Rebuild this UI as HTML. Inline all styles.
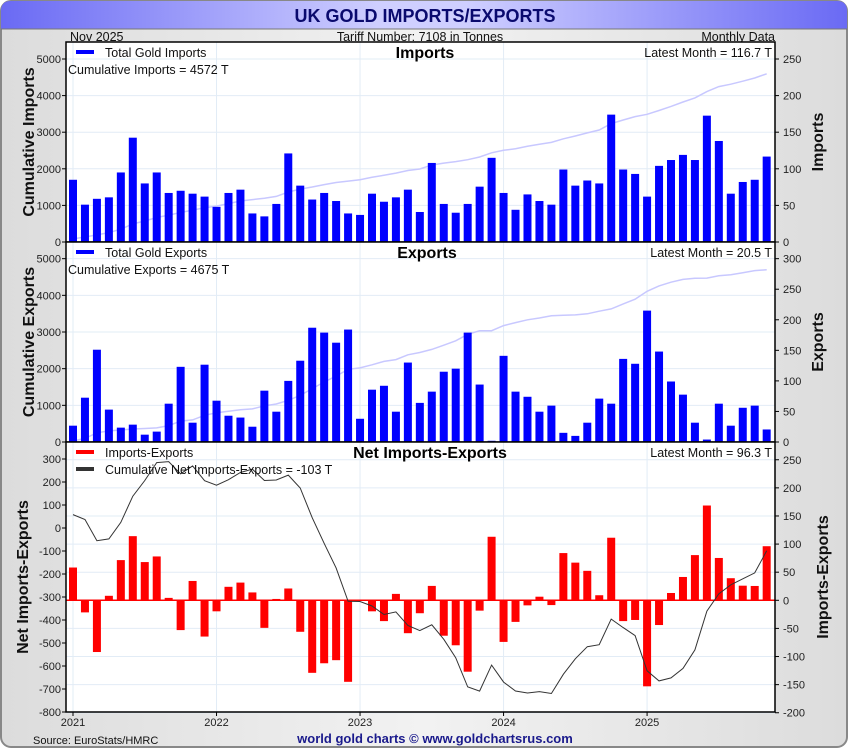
<!DOCTYPE html>
<html><head><meta charset="utf-8">
<style>
html,body{margin:0;padding:0;background:#fff;}
svg{display:block;font-family:"Liberation Sans",sans-serif;}
</style></head>
<body>
<svg id="chart" width="850" height="750" viewBox="0 0 850 750" xmlns="http://www.w3.org/2000/svg">
<defs>
<linearGradient id="tg" x1="0" x2="1" y1="0" y2="0">
<stop offset="0" stop-color="#6a6af4"/><stop offset="0.45" stop-color="#cfcfff"/><stop offset="0.55" stop-color="#cfcfff"/><stop offset="1" stop-color="#6a6af4"/>
</linearGradient>
<linearGradient id="bg" x1="0" x2="1" y1="0" y2="0">
<stop offset="0" stop-color="#dcdcdc"/><stop offset="0.5" stop-color="#f2f2f2"/><stop offset="1" stop-color="#dcdcdc"/>
</linearGradient>
</defs>
<rect x="1" y="1" width="846" height="746" rx="10" fill="url(#bg)" stroke="#888" stroke-width="2"/>
<path d="M1,29 L1,11 Q1,1 11,1 L837,1 Q847,1 847,11 L847,29 Z" fill="url(#tg)"/>
<line x1="1" y1="29" x2="847" y2="29" stroke="#777" stroke-width="1"/>
<text x="425" y="22" text-anchor="middle" font-size="18" font-weight="bold" fill="#0a0a6e">UK GOLD IMPORTS/EXPORTS</text>
<text x="70" y="41" font-size="12.5" fill="#111">Nov  2025</text>
<text x="420" y="41" text-anchor="middle" font-size="12.5" fill="#111">Tariff Number: 7108 in Tonnes</text>
<text x="775" y="41" text-anchor="end" font-size="12.5" fill="#111">Monthly Data</text>
<text x="33" y="744" font-size="11" fill="#111">Source: EuroStats/HMRC</text>
<text x="435" y="743" text-anchor="middle" font-size="13" font-weight="bold" fill="#1a1a8c">world gold charts © www.goldchartsrus.com</text>
<g id="plots"></g>
</svg>
<script>
const imports = [85,51,59,61,95,142.5,80,95,67,70,66,62,48,67,71.5,39,35,52,121,77,58,67,56,39,37,66,55,61,71.5,41,108,52,40,52,75.6,115,67,44,65,56,51,99,77,84,80,174,99,93,62,104,112,119,112,172.6,138,66,82,85,116.7];
const exportsArr = [26.7,72.5,151,53,23.5,28.4,12,17,62.7,123,31.6,126.5,67.6,43,40,25,84,49.6,100,133,187,179,162.5,184,38,85.6,92,49.6,130,64,82.4,115,120,179,94,2,141,82.4,74,49.6,59.5,15,10,31.6,71,62.7,136,128,215,148,99,77.5,31.6,4,62.7,26.7,56,59.5,20.5];
const yearLabels = ["2021","2022","2023","2024","2025"];
const impLeftTicks = [0,1000,2000,3000,4000,5000];
const impRightTicks = [0,50,100,150,200,250];
const expLeftTicks = [0,1000,2000,3000,4000,5000];
const expRightTicks = [0,50,100,150,200,250,300];
const netLeftTicks = [300,200,100,0,-100,-200,-300,-400,-500,-600,-700,-800];
const netRightTicks = [250,200,150,100,50,0,-50,-100,-150,-200];

const NS="http://www.w3.org/2000/svg";
const root=document.getElementById('plots');
function el(tag,attrs,parent){const e=document.createElementNS(NS,tag);for(const k in attrs)e.setAttribute(k,attrs[k]);(parent||root).appendChild(e);return e;}
const X0=66,X1=775;
const xm=i=>73+i*11.96;
const net=imports.map((v,i)=>v-exportsArr[i]);
const cum=a=>{let s=0;return a.map(v=>s+=v);};

function panel(cfg){
  const g=el('g',{});
  
  
  el('rect',{x:X0,y:cfg.top,width:X1-X0,height:cfg.bot-cfg.top,fill:'#fff'},g);
  cfg.gridTicks.forEach(t=>{const y=cfg.gy(t);el('line',{x1:X0,x2:X1,y1:y,y2:y,stroke:'#e2ecf6','stroke-width':1},g);});
  yearLabels.forEach((l,k)=>{const x=xm(k*12);el('line',{x1:x,x2:x,y1:cfg.top,y2:cfg.bot,stroke:'#e2ecf6','stroke-width':1},g);});
  const cp=cfg.cumVals.map((v,i)=>xm(i).toFixed(1)+','+cfg.ly(v).toFixed(1)).join(' ');
  const pl=el('polyline',{points:cp,fill:'none',stroke:cfg.cumColor,'stroke-width':cfg.cumW},g);
  
  
  const z=cfg.ry(0);
  cfg.vals.forEach((v,i)=>{const y=cfg.ry(v);const b=el('rect',{x:xm(i)-4,y:Math.min(y,z),width:8,height:Math.abs(z-y),fill:cfg.barColor},g);
    
    });
  if(cfg.zeroLine){el('line',{x1:X0,x2:X1,y1:z,y2:z,stroke:'#f00','stroke-width':1.5},g);}
  if(cfg.overLine){g.appendChild(pl);}
  el('rect',{x:X0,y:cfg.top,width:X1-X0,height:cfg.bot-cfg.top,fill:'none',stroke:'#000','stroke-width':1.5},g);
  cfg.leftTicks.forEach(t=>{const y=cfg.ly(t);el('line',{x1:X0-4,x2:X0,y1:y,y2:y,stroke:'#000'},g);
    const tx=el('text',{x:X0-5,y:y+4,'text-anchor':'end','font-size':11,fill:'#222'},g);tx.textContent=t;
    });
  cfg.rightTicks.forEach(t=>{const y=cfg.ry(t);el('line',{x1:X1,x2:X1+4,y1:y,y2:y,stroke:'#000'},g);
    const tx=el('text',{x:X1+8,y:y+4,'font-size':11,fill:'#222'},g);tx.textContent=t;
    });
  const mid=(cfg.top+cfg.bot)/2;
  const lt=el('text',{x:0,y:0,transform:`translate(${cfg.ltx},${mid}) rotate(-90)`,'text-anchor':'middle','font-size':16,'font-weight':'bold',fill:'#111'},g);lt.textContent=cfg.leftTitle;
  
  const rt=el('text',{x:0,y:0,transform:`translate(${cfg.rtx},${mid}) rotate(-90)`,'text-anchor':'middle','font-size':16,'font-weight':'bold',fill:'#111'},g);rt.textContent=cfg.rightTitle;
  
  const h=el('text',{x:cfg.hx,y:cfg.top+16,'text-anchor':'middle','font-size':16,'font-weight':'bold',fill:'#000'},g);h.textContent=cfg.heading;
  
  const lm=el('text',{x:772,y:cfg.top+15,'text-anchor':'end','font-size':12.5,fill:'#111'},g);lm.textContent=cfg.latest;
  
  cfg.legend.forEach((L,k)=>{const y=cfg.top+10+k*17;
    el('line',{x1:76,x2:94,y1:y,y2:y,stroke:L[0],'stroke-width':4},g);
    const t=el('text',{x:105,y:y+5,'font-size':12.5,fill:'#111'},g);t.textContent=L[1];
    });
  if(cfg.cumText){const t=el('text',{x:68,y:cfg.top+32,'font-size':12.5,fill:'#111'},g);t.textContent=cfg.cumText;
    }
  return g;
}
const iry=v=>242-v*0.7320;
panel({name:'imports',top:42,bot:242,vals:imports,cumVals:cum(imports),ry:iry,ly:v=>iry(v/20),gy:v=>iry(v/20),gridTicks:impLeftTicks,
  leftTicks:impLeftTicks,rightTicks:impRightTicks,barColor:'#0000ff',cumColor:'#c8c8ff',cumW:1.5,ltx:34,rtx:823,leftTitle:'Cumulative Imports',rightTitle:'Imports',
  heading:'Imports',hx:425,latest:'Latest Month = 116.7 T',legend:[['#0000ff','Total Gold Imports']],cumText:'Cumulative Imports = 4572 T'});
const ery=v=>442-v*0.6111;
panel({name:'exports',top:242,bot:442,vals:exportsArr,cumVals:cum(exportsArr),ry:ery,ly:v=>ery(v*0.06),gy:v=>ery(v*0.06),gridTicks:expLeftTicks,
  leftTicks:expLeftTicks,rightTicks:expRightTicks,barColor:'#0000ff',cumColor:'#c8c8ff',cumW:1.5,ltx:34,rtx:823,leftTitle:'Cumulative Exports',rightTitle:'Exports',
  heading:'Exports',hx:427,latest:'Latest Month = 20.5 T',legend:[['#0000ff','Total Gold Exports']],cumText:'Cumulative Exports = 4675 T'});
const nry=v=>600.3-v*0.5622;
const nly=v=>459+(300-v)*0.2300;
panel({name:'net',top:442,bot:712,vals:net,cumVals:cum(net),ry:nry,ly:nly,gy:nry,gridTicks:netRightTicks,zeroLine:true,overLine:true,
  leftTicks:netLeftTicks,rightTicks:netRightTicks,barColor:'#ff0000',cumColor:'#333',cumW:1,ltx:28,rtx:828,leftTitle:'Net Imports-Exports',rightTitle:'Imports-Exports',
  heading:'Net Imports-Exports',hx:430,latest:'Latest Month = 96.3 T',legend:[['#ff0000','Imports-Exports'],['#333','Cumulative Net Imports-Exports = -103 T']]});
yearLabels.forEach((l,k)=>{const x=xm(k*12);
  el('line',{x1:x,x2:x,y1:712,y2:716,stroke:'#000'});
  const t=el('text',{x:x,y:726,'text-anchor':'middle','font-size':11,fill:'#222'});t.textContent=l;
  
  });
</script>
</body></html>
